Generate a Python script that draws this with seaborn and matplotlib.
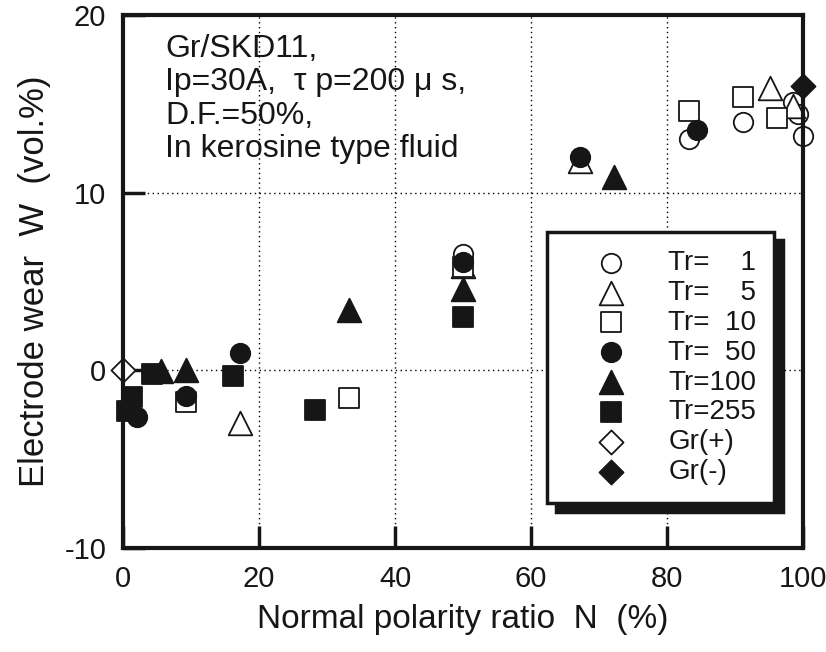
import numpy as np
import pandas as pd
import matplotlib
matplotlib.use("Agg")
import matplotlib.pyplot as plt
import seaborn as sns

# Values: x = normal polarity ratio N (%), y = electrode wear W (vol.%)
tr1_x = [50.0, 83.3, 91.2, 98.6, 99.2, 100.0]
tr1_y = [6.55, 13.0, 14.0, 15.1, 14.4, 13.2]

tr5_x = [17.2, 50.0, 67.2, 95.1, 98.6]
tr5_y = [-2.95, 5.9, 11.8, 15.9, 14.85]

tr10_x = [9.3, 33.2, 50.0, 83.2, 91.2, 96.2]
tr10_y = [-1.8, -1.55, 5.8, 14.6, 15.4, 14.2]

tr50_x = [2.0, 9.3, 17.2, 50.0, 67.2, 84.4]
tr50_y = [-2.6, -1.45, 1.0, 6.1, 12.0, 13.5]

tr100_x = [5.6, 9.3, 33.3, 50.0, 72.2]
tr100_y = [-0.05, 0.0, 3.4, 4.6, 10.9]

tr255_x = [0.6, 1.3, 4.3, 16.2, 28.2, 50.0]
tr255_y = [-2.3, -1.5, -0.2, -0.3, -2.25, 3.0]

grp_x = [0.0]
grp_y = [0.0]
grm_x = [100.0]
grm_y = [16.0]

labels = ["Tr=    1", "Tr=    5", "Tr=  10", "Tr=  50", "Tr=100", "Tr=255", "Gr(+)", "Gr(-)"]
xs = [tr1_x, tr5_x, tr10_x, tr50_x, tr100_x, tr255_x, grp_x, grm_x]
ys = [tr1_y, tr5_y, tr10_y, tr50_y, tr100_y, tr255_y, grp_y, grm_y]

# marker, size (pt^2), filled?
styles = [("o", 196, False), ("^", 289, False), ("s", 196, False),
          ("o", 196, True), ("^", 289, True), ("s", 196, True),
          ("D", 150, False), ("D", 150, True)]

sns.set_theme(style="white")
plt.rcParams["font.family"] = ["Liberation Sans", "DejaVu Sans"]
plt.rcParams["axes.unicode_minus"] = False

fig = plt.figure(figsize=(8.26, 6.52), dpi=100)
ax = fig.add_axes([123 / 826, 1 - 548 / 652, 680 / 826, 533 / 652])

ink = "#161616"
handles = []
for x, y, lab, (m, s, filled) in zip(xs, ys, labels, styles):
    df = pd.DataFrame({"N": x, "W": y})
    sns.scatterplot(data=df, x="N", y="W", ax=ax, marker=m, s=s,
                    facecolor=ink if filled else "white", edgecolor=ink,
                    linewidth=1.3, clip_on=False, zorder=3, legend=False)
    handles.append(ax.collections[-1])

ax.set_xlim(0, 100)
ax.set_ylim(-10, 20)
ax.set_xticks(np.arange(0, 101, 20))
ax.set_xticks(np.arange(10, 100, 20), minor=True)
ax.set_yticks([-10, 0, 10, 20])

ax.grid(True, which="major", color="black", linestyle=(0, (1, 2.5)), linewidth=1.0, zorder=1)
ax.set_axisbelow(True)

for sp in ax.spines.values():
    sp.set_visible(True)
    sp.set_linewidth(3)
    sp.set_color(ink)
    sp.set_zorder(4)

ax.tick_params(axis="both", which="major", direction="in", length=16, width=2.5,
               color=ink, labelsize=21, pad=12, labelcolor=ink)
ax.tick_params(axis="x", which="minor", direction="in", length=9, width=2.5, color=ink)
ax.tick_params(axis="x", which="major", bottom=True)
ax.tick_params(axis="y", which="major", left=True)

ax.set_xlabel("Normal polarity ratio  N  (%)", fontsize=24, labelpad=8, color=ink)
ax.set_ylabel("Electrode wear  W  (vol.%)", fontsize=25, labelpad=10, color=ink)

ax.text(0.062, 0.965, "Gr/SKD11,\nIp=30A,  \u03c4 p=200 \u03bc s,\nD.F.=50%,\nIn kerosine type fluid",
        transform=ax.transAxes, ha="left", va="top", fontsize=23, linespacing=1.15, color=ink)

leg = ax.legend(handles, labels, loc="upper left", bbox_to_anchor=(0.624, 0.593),
                borderaxespad=0, fontsize=20, frameon=True, fancybox=False,
                borderpad=0.65, handlelength=3.3, handletextpad=0.4, labelspacing=0.14,
                shadow={"ox": 6, "oy": -6, "color": ink, "alpha": 1})
for t in leg.get_texts():
    t.set_color(ink)
frame = leg.get_frame()
frame.set_edgecolor(ink)
frame.set_linewidth(2.5)
frame.set_facecolor("white")
frame.set_alpha(1)

fig.savefig("out.png", dpi=100)
